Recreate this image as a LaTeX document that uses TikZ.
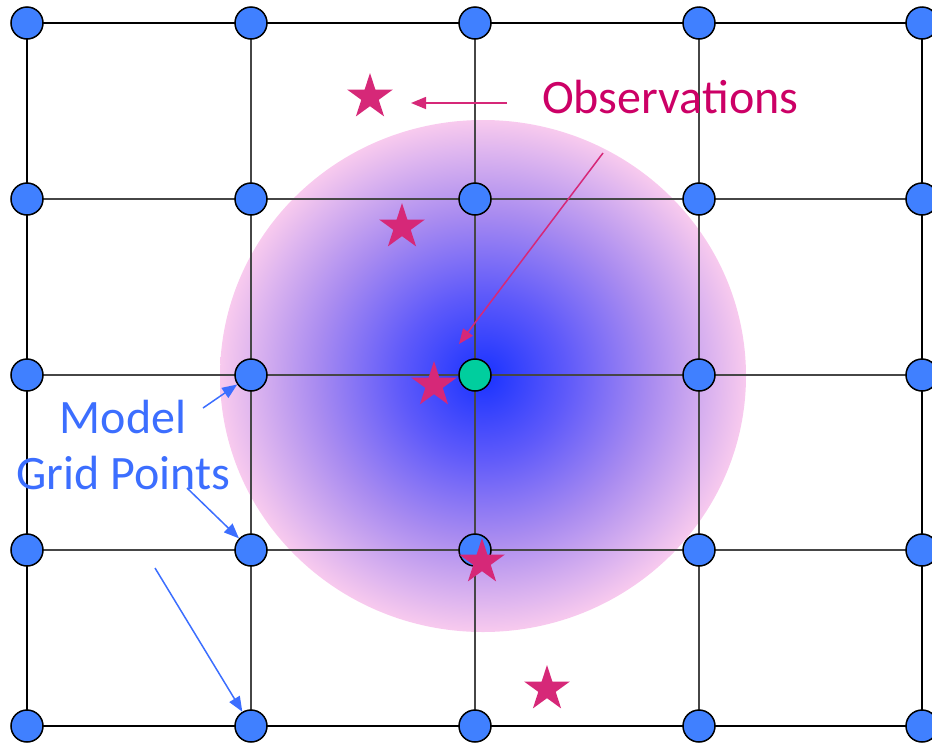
\documentclass[tikz,border=0pt]{standalone}
\usepackage{fontspec}
\setmainfont{Carlito}
\usetikzlibrary{shapes.geometric,arrows.meta}
\definecolor{dotblue}{RGB}{64,128,255}
\definecolor{gdot}{RGB}{0,206,158}
\definecolor{starc}{RGB}{214,40,120}
\definecolor{obstext}{RGB}{204,0,102}
\definecolor{modeltext}{RGB}{60,110,255}
\definecolor{innerline}{RGB}{70,70,70}
\definecolor{shA}{RGB}{25,50,255}
\definecolor{shB}{RGB}{95,90,250}
\definecolor{shC}{RGB}{170,140,240}
\definecolor{shD}{RGB}{248,202,238}
\pgfdeclareradialshading{obsshade}{\pgfpoint{0bp}{0bp}}{color(0bp)=(shA); color(8bp)=(shB); color(16bp)=(shC); color(25bp)=(shD); color(50bp)=(shD)}
\tikzset{
  gpt/.style={circle, draw=black, line width=1.5pt, fill=dotblue, minimum size=32pt, inner sep=0pt},
  cpt/.style={circle, draw=black, line width=1.5pt, fill=gdot, minimum size=32pt, inner sep=0pt},
  obsstar/.style={star, star points=5, star point ratio=2.62, minimum size=48pt, inner sep=0pt, fill=starc},
  frame/.style={line width=2.8pt, black},
  gline/.style={line width=1.6pt, innerline},
  obsarrow/.style={line width=1.5pt, starc, -{Triangle[length=15pt,width=12pt]}},
  modarrow/.style={line width=1.5pt, modeltext, -{Triangle[length=15pt,width=12pt]}},
}
\begin{document}
\begin{tikzpicture}[x=1pt,y=-1pt]
\useasboundingbox (0,0) rectangle (932,745);
\clip (0,0) rectangle (932,745);
% shaded region of influence
\shade[shading=obsshade] (483,376) ellipse [x radius=263, y radius=256];
% grid coordinates
\foreach \i/\x in {0/27,1/251,2/475,3/699,4/922}{
  \foreach \j/\y in {0/23,1/199,2/375,3/550,4/726}{
    \coordinate (p-\i-\j) at (\x,\y);
  }
}
% inner grid lines
\foreach \k in {1,2,3}{
  \draw[gline] (p-\k-0) -- (p-\k-4);
  \draw[gline] (p-0-\k) -- (p-4-\k);
}
% outer frame
\draw[frame] (p-0-0) -- (p-4-0) -- (p-4-4) -- (p-0-4) -- cycle;
% grid points
\foreach \i in {0,...,4}{
  \foreach \j in {0,...,4}{
    \ifnum\i=2 \ifnum\j=2 \else \node[gpt] (d-\i-\j) at (p-\i-\j) {}; \fi
    \else \node[gpt] (d-\i-\j) at (p-\i-\j) {}; \fi
  }
}
\node[cpt] (d-2-2) at (p-2-2) {};
% observations
\node[obsstar] (s1) at (370,97) {};
\node[obsstar] (s2) at (402,227) {};
\node[obsstar] (s3) at (434,385) {};
\node[obsstar] (s4) at (482,562) {};
\node[obsstar] (s5) at (547,689) {};
% labels
\node[anchor=base west, inner sep=0pt, text=obstext, font=\fontsize{48}{56}\selectfont] (obs) at (542,113) {Observations};
\node[anchor=center, inner sep=0pt, text=modeltext, align=center, font=\fontsize{48}{56}\selectfont] (model) at (123,445) {Model\\Grid Points};
% arrows
\coordinate (oa1) at (507,103);
\coordinate (ot1) at (411,103);
\coordinate (oa2) at (603,153);
\coordinate (ot2) at (459,344);
\draw[obsarrow] (oa1) -- (ot1);
\draw[obsarrow] (oa2) -- (ot2);
\coordinate (ma1) at (203,408);
\coordinate (ma2) at (187,488);
\coordinate (ma3) at (155,568);
\draw[modarrow] (ma1) -- (d-1-2);
\draw[modarrow] (ma2) -- (d-1-3);
\draw[modarrow] (ma3) -- (d-1-4);
\end{tikzpicture}
\end{document}
